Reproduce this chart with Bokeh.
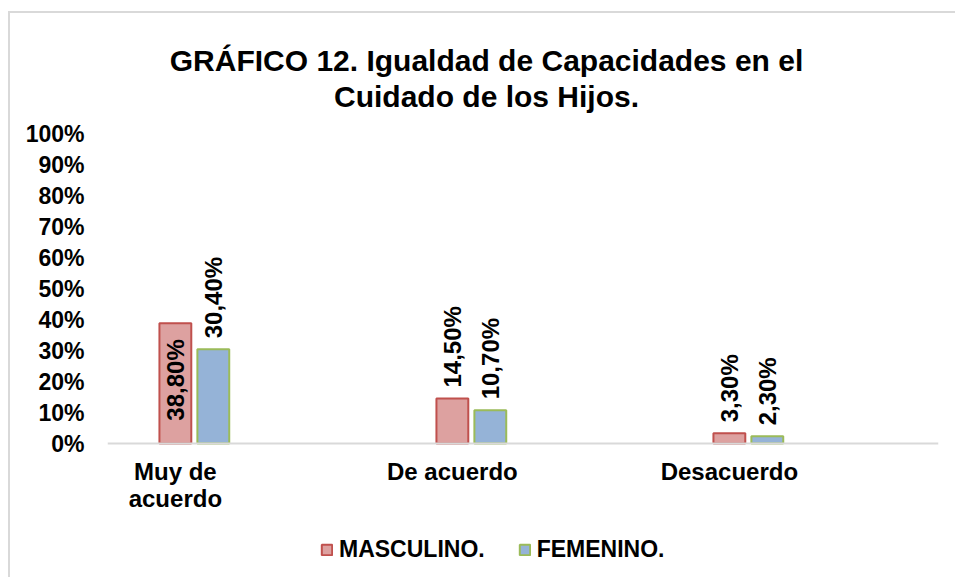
import math
from bokeh.plotting import figure
from bokeh.core.properties import value
from bokeh.models import (ColumnDataSource, FixedTicker, PrintfTickFormatter, Range1d,
                          LabelSet, Label, Legend, LegendItem, Span)
from bokeh.embed import file_html
from bokeh.resources import INLINE

# ---- data ----
title_lines = ["GRÁFICO 12. Igualdad de Capacidades en el", "Cuidado de los Hijos."]
categories = ["Muy de\nacuerdo", "De acuerdo", "Desacuerdo"]
series_names = ["MASCULINO.", "FEMENINO."]
masculino = [38.8, 14.5, 3.3]
femenino = [30.4, 10.7, 2.3]
y_ticks = [0, 10, 20, 30, 40, 50, 60, 70, 80, 90, 100]

FONT = "Liberation Sans"
pos = list(range(len(categories)))
bar_w = 0.115
fem_shift = 0.137

# frame spans title, plot, category labels and legend; 0..100 % occupies 310 px
PX_PER_UNIT = 3.1
ABOVE_PX = 423     # frame top down to the 0 % baseline
BELOW_PX = 132     # baseline down to the frame bottom
y_end = ABOVE_PX / PX_PER_UNIT
y_start = -BELOW_PX / PX_PER_UNIT
CAT_LINE_PX = 27


def fmt(v):
    return f"{v:.2f}%".replace(".", ",")


mas_src = ColumnDataSource(dict(x=pos, top=masculino))
fem_src = ColumnDataSource(dict(x=[q + fem_shift for q in pos], top=femenino))

# one row per line of each category label, so every line is centred
cat_x, cat_txt, cat_dy = [], [], []
for q, c in zip(pos, categories):
    for k, line in enumerate(c.split("\n")):
        cat_x.append(q)
        cat_txt.append(line)
        cat_dy.append(-14 - k * CAT_LINE_PX)
cat_src = ColumnDataSource(dict(x=cat_x, y=[0] * len(cat_x), label=cat_txt, dy=cat_dy))

p = figure(title=None, frame_width=831, frame_height=ABOVE_PX + BELOW_PX,
           x_range=Range1d(-0.245, 2.755), y_range=Range1d(y_start, y_end),
           output_backend="svg", toolbar_location=None,
           min_border_left=97, min_border_right=17, min_border_top=7, min_border_bottom=2)
p.styles = {"margin-left": "8px", "margin-top": "11px",
            "border-left": "2px solid #d9d9d9", "border-top": "2px solid #d9d9d9"}

p.outline_line_color = None
p.xgrid.visible = False
p.ygrid.visible = False
p.xaxis.visible = False

r1 = p.vbar(x="x", top="top", width=bar_w, source=mas_src,
            fill_color="#dda1a0", line_color="#c0504d", line_width=2)
r2 = p.vbar(x="x", top="top", width=bar_w, source=fem_src,
            fill_color="#95b3d7", line_color="#9bbb59", line_width=2)

# category baseline
p.add_layout(Span(location=0, dimension="width", line_color="#d9d9d9", line_width=2))

# category labels under the baseline
p.add_layout(LabelSet(x="x", y="y", text="label", source=cat_src, y_offset="dy",
                      text_align="center", text_baseline="top",
                      text_font=value(FONT), text_font_size="24px",
                      text_font_style="bold", text_color="black"))

# title: two centred lines (screen units, relative to the frame's bottom-left)
title_font = dict(text_font=FONT, text_font_size="30px", text_font_style="bold",
                  text_color="black", text_align="center", text_baseline="alphabetic")
p.add_layout(Label(x=379, y=BELOW_PX + 383, x_units="screen", y_units="screen",
                   text=title_lines[0], **title_font))
p.add_layout(Label(x=379, y=BELOW_PX + 347, x_units="screen", y_units="screen",
                   text=title_lines[1], **title_font))

# data labels
inside = ColumnDataSource(dict(x=[pos[0]], y=[masculino[0]], label=[fmt(masculino[0])]))
outside = ColumnDataSource(dict(x=pos[1:] + [q + fem_shift for q in pos],
                                y=masculino[1:] + femenino,
                                label=[fmt(v) for v in masculino[1:]] + [fmt(v) for v in femenino]))
common = dict(angle=math.pi / 2, text_font=value(FONT), text_font_size="24px",
              text_font_style="bold", text_color="black", text_baseline="middle")
p.add_layout(LabelSet(x="x", y="y", text="label", source=outside, text_align="left",
                      y_offset=11, **common))
p.add_layout(LabelSet(x="x", y="y", text="label", source=inside, text_align="right",
                      y_offset=-16, **common))

# y axis
p.yaxis.ticker = FixedTicker(ticks=y_ticks)
p.yaxis.formatter = PrintfTickFormatter(format="%d%%")
p.yaxis.axis_line_color = None
p.yaxis.major_tick_line_color = None
p.yaxis.minor_tick_line_color = None
p.yaxis.major_label_standoff = 17
p.yaxis.major_label_text_font = FONT
p.yaxis.major_label_text_font_size = "23px"
p.yaxis.major_label_text_font_style = "bold"
p.yaxis.major_label_text_color = "black"

legend = Legend(items=[LegendItem(label=series_names[0], renderers=[r1]),
                       LegendItem(label=series_names[1], renderers=[r2])],
                orientation="horizontal", location=(213, 12),
                glyph_width=13, glyph_height=13, label_standoff=6, spacing=33,
                label_text_font=FONT, label_text_font_size="23px",
                label_text_font_style="bold", label_text_color="black",
                border_line_color=None, background_fill_alpha=0, padding=0, margin=0)
p.add_layout(legend, "center")

open("out.html", "w").write(file_html(p, INLINE))
